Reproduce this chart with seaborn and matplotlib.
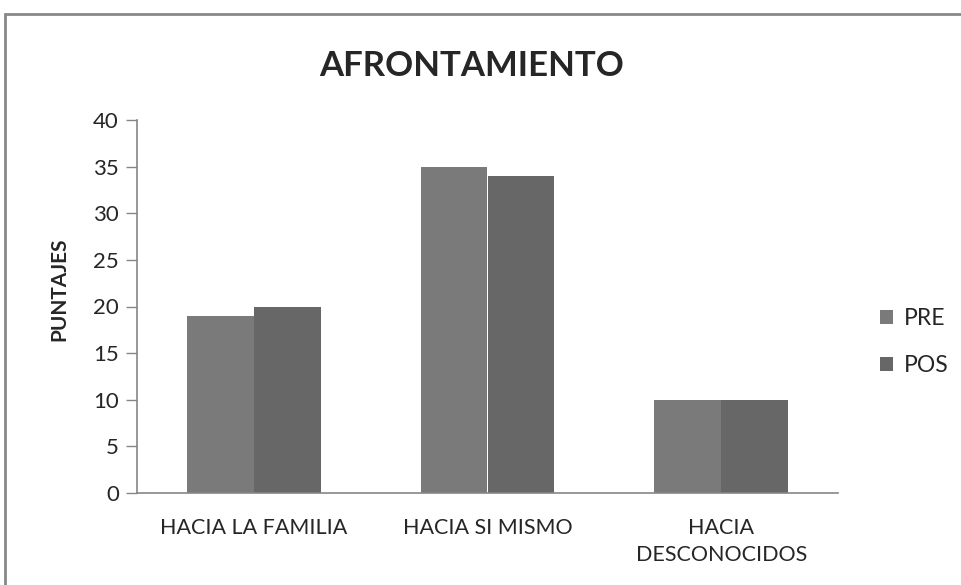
import pandas as pd
import seaborn as sns
import matplotlib.pyplot as plt
from matplotlib.patches import Rectangle

categorias = ["HACIA LA FAMILIA", "HACIA SI MISMO", "HACIA\nDESCONOCIDOS"]
pre = [19, 35, 10]
pos = [20, 34, 10]
series = ["PRE", "POS"]
colores = ["#7a7a7a", "#676767"]

df = pd.DataFrame({
    "categoria": categorias * 2,
    "valor": pre + pos,
    "serie": ["PRE"] * 3 + ["POS"] * 3,
})

sns.set_style("white")
plt.rcParams["font.family"] = ["Lato", "DejaVu Sans"]

fig = plt.figure(figsize=(9.61, 5.85), dpi=100)
ax = fig.add_axes([137 / 961, 1 - 493 / 585, 701 / 961, 373 / 585])

sns.barplot(data=df, x="categoria", y="valor", hue="serie", hue_order=series,
            palette=colores, width=0.573, saturation=1, linewidth=0, ax=ax)

ax.set_ylim(0, 40)
ax.set_yticks(range(0, 41, 5))
ax.set_xlim(-0.5, 2.5)
ax.set_xlabel("")
ax.set_ylabel("PUNTAJES", fontsize=15, fontweight="bold")
ax.yaxis.set_label_coords(-0.097, 0.547)
ax.tick_params(axis="y", length=8, width=1, color="#868686", labelsize=16, pad=5, left=True)
ax.tick_params(axis="x", length=0, labelsize=15.5, pad=18)
for lbl in ax.get_xticklabels():
    lbl.set_linespacing(1.45)
for s in ["top", "right"]:
    ax.spines[s].set_visible(False)
for s in ["left", "bottom"]:
    ax.spines[s].set_color("#868686")
    ax.spines[s].set_linewidth(1.2)

fig.text(472 / 961, 1 - 66 / 585, "AFRONTAMIENTO", fontsize=25, fontweight="bold",
         ha="center", va="center")

ax.legend(loc="center left", bbox_to_anchor=(1.06, 0.405), frameon=False,
          fontsize=16.5, handlelength=0.55, handleheight=0.55, labelspacing=1.15,
          handletextpad=0.5, borderaxespad=0, borderpad=0)

fig.patches.append(Rectangle((5 / 961, -0.1), 1.2, 1 - 14 / 585 + 0.1,
                             transform=fig.transFigure, fill=False,
                             edgecolor="#888888", linewidth=2))

fig.savefig("out.png", dpi=100)
